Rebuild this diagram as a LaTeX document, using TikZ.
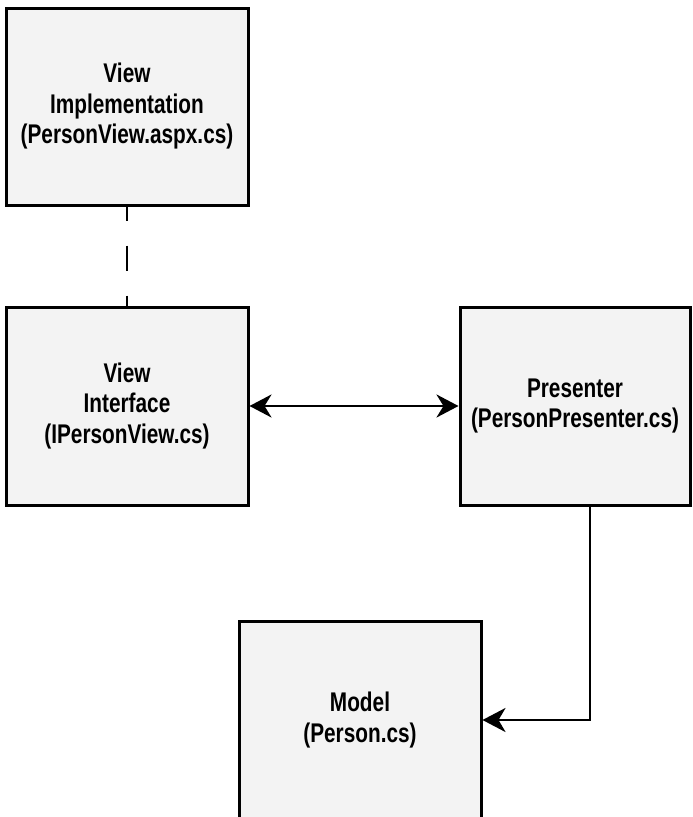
\documentclass[tikz,border=0pt]{standalone}
\usepackage{fontspec}
\setmainfont{Liberation Sans}[FakeStretch=0.77]
\usetikzlibrary{arrows.meta}
\definecolor{boxfill}{HTML}{F3F3F3}
\begin{document}
\begin{tikzpicture}[x=1pt,y=-1pt,
  box/.style={draw=black, line width=3pt, fill=boxfill, minimum width=242pt, minimum height=197pt,
    align=center, font=\fontsize{27}{30.5}\selectfont\bfseries, inner sep=0pt},
  conn/.style={line width=2.8pt},
  tip/.style={-{Stealth[length=23pt,width=24pt,inset=7pt]}}]
\useasboundingbox (0,0) rectangle (693,817);
\fill[white] (0,0) rectangle (693,817);
\node[box] (impl) at (127,106.5) {View\\Implementation\\(PersonView.aspx.cs)};
\node[box, minimum height=198pt] (iface) at (127,406) {View\\Interface\\(IPersonView.cs)};
\node[box, minimum width=230pt, minimum height=198pt] (pres) at (575,406) {Presenter\\(PersonPresenter.cs)};
\node[box, minimum height=198pt] (model) at (360,720) {Model\\(Person.cs)};
\coordinate (turn) at (590,505);
\draw[conn, dash pattern=on 25pt off 25pt, dash phase=11pt] (impl.south) -- (iface.north);
\draw[conn, {Stealth[length=22pt,width=23pt,inset=7pt]}-{Stealth[length=22pt,width=23pt,inset=7pt]}] (iface.east) -- (pres.west);
\draw[conn, tip] (pres.south -| turn) |- (model.east);
\end{tikzpicture}
\end{document}
